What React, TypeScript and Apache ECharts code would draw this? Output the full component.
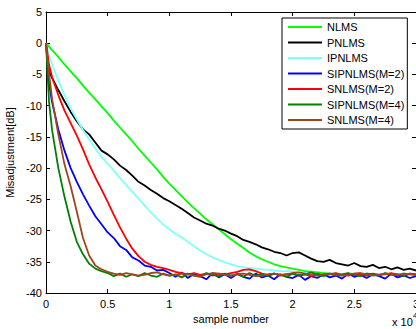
import React, { useEffect, useRef } from "react";
import * as echarts from "echarts";

// sample number (x 10^4)
const X = [0, 0.025, 0.05, 0.1, 0.15, 0.2, 0.25, 0.3, 0.35, 0.4, 0.45, 0.5, 0.55, 0.6, 0.65, 0.7, 0.75, 0.8, 0.85, 0.9, 0.95, 1.0,
  1.05, 1.1, 1.15, 1.2, 1.25, 1.3, 1.35, 1.4, 1.45, 1.5, 1.55, 1.6, 1.65, 1.7, 1.75, 1.8, 1.85, 1.9, 1.95, 2.0,
  2.05, 2.1, 2.15, 2.2, 2.25, 2.3, 2.35, 2.4, 2.45, 2.5, 2.55, 2.6, 2.65, 2.7, 2.75, 2.8, 2.85, 2.9, 2.95, 3.0];

const NLMS = [0, -0.55, -1.1, -2.2, -3.4, -4.5, -5.6, -6.8, -7.9, -9.0, -10.1, -11.2, -12.4, -13.5, -14.6, -15.7, -16.9, -18.0, -19.1, -20.2, -21.4, -22.5,
  -23.5, -24.5, -25.5, -26.4, -27.3, -28.2, -29.0, -29.8, -30.6, -31.4, -32.1, -32.8, -33.5, -34.1, -34.6, -35.0, -35.4, -35.7, -35.9, -36.1,
  -36.3, -36.5, -36.6, -36.7, -36.8, -36.9, -36.9, -37.0, -36.9, -37.1, -37.0, -36.9, -37.0, -37.1, -36.9, -37.0, -37.0, -36.9, -37.0, -37.0];

const PNLMS = [0, -4.5, -5.6, -7.5, -9.3, -11.0, -12.5, -13.8, -14.6, -15.9, -17.2, -17.8, -18.6, -19.6, -20.3, -21.2, -22.2, -22.8, -23.5, -24.1, -24.8, -25.3,
  -25.9, -26.5, -27.2, -27.9, -28.4, -28.9, -29.2, -29.7, -30.0, -30.5, -30.9, -31.5, -31.8, -32.2, -32.7, -33.0, -33.4, -33.6, -34.0, -33.6,
  -33.5, -34.0, -34.5, -34.9, -35.0, -34.7, -35.2, -35.4, -35.6, -35.2, -35.7, -35.8, -35.5, -36.0, -35.8, -36.2, -35.9, -36.3, -36.1, -36.4];

const IPNLMS = [0, -2.0, -3.4, -6.0, -8.3, -10.4, -12.2, -13.9, -15.4, -16.9, -18.2, -19.3, -20.4, -21.6, -22.7, -23.8, -24.9, -26.0, -27.1, -28.1, -29.0, -29.8,
  -30.5, -31.1, -31.8, -32.5, -33.2, -33.8, -34.3, -34.7, -35.1, -35.4, -35.7, -35.9, -36.0, -36.1, -36.2, -36.3, -36.4, -36.5, -36.5, -36.6,
  -36.7, -36.8, -36.9, -37.0, -36.9, -37.0, -37.1, -36.9, -37.0, -37.0, -37.1, -36.9, -37.0, -37.0, -36.9, -37.1, -37.0, -36.9, -37.0, -37.0];

const SIPNLMS_M2 = [0, -6.5, -9.5, -13.8, -17.2, -20.0, -22.2, -24.2, -26.0, -27.7, -29.0, -30.3, -31.2, -32.5, -33.1, -34.3, -34.8, -35.6, -35.8, -36.4, -36.3, -36.8,
  -37.4, -36.7, -37.6, -36.9, -37.3, -37.8, -36.8, -37.5, -37.0, -37.6, -36.9, -37.4, -37.7, -36.9, -37.5, -37.2, -37.8, -37.0, -37.4, -37.6,
  -37.1, -37.9, -37.3, -37.6, -37.0, -37.5, -37.2, -37.7, -36.9, -37.4, -37.1, -37.6, -37.0, -37.3, -37.7, -36.9, -37.5, -37.2, -37.6, -37.3];

const SNLMS_M2 = [0, -3.5, -5.5, -8.3, -10.8, -12.8, -14.8, -17.0, -19.4, -21.5, -23.4, -25.4, -27.5, -29.5, -31.3, -32.9, -34.1, -35.0, -35.5, -35.8, -36.0, -36.3,
  -36.6, -36.8, -37.0, -36.8, -37.1, -36.9, -37.2, -36.9, -37.0, -36.8, -36.6, -36.3, -36.2, -36.5, -36.9, -37.1, -36.9, -37.2, -37.0, -36.9,
  -37.2, -37.0, -37.3, -36.9, -37.1, -37.0, -36.8, -37.1, -37.2, -36.9, -37.0, -37.2, -36.9, -37.1, -37.0, -36.8, -37.1, -37.2, -36.9, -37.0];

const SIPNLMS_M4 = [0, -9.5, -14.0, -20.0, -24.6, -28.6, -31.8, -33.8, -35.3, -36.1, -36.5, -36.8, -37.3, -36.9, -37.4, -37.0, -37.3, -36.8, -37.2, -37.4, -36.9, -37.2,
  -37.0, -37.5, -36.9, -37.2, -37.4, -36.8, -37.1, -37.3, -36.9, -37.2, -37.0, -37.4, -36.8, -37.2, -37.0, -37.3, -36.9, -37.1, -37.4, -36.9,
  -37.2, -37.0, -36.7, -37.1, -37.3, -36.9, -37.2, -37.0, -36.8, -37.1, -37.3, -36.9, -37.0, -37.2, -36.8, -37.1, -37.0, -37.3, -36.9, -37.1];

const SNLMS_M4 = [0, -5.0, -9.0, -14.6, -19.4, -22.9, -27.0, -31.2, -34.0, -35.6, -36.2, -36.6, -36.9, -37.1, -36.8, -37.0, -37.2, -37.1, -36.8, -36.7, -37.0, -37.2,
  -37.1, -36.9, -37.0, -37.2, -37.3, -37.0, -36.8, -36.9, -37.1, -37.2, -37.0, -36.9, -37.1, -37.3, -37.2, -37.0, -36.9, -37.1, -37.0, -36.8,
  -36.7, -36.9, -37.1, -37.2, -37.0, -36.9, -37.0, -37.2, -37.1, -36.9, -36.8, -37.0, -37.2, -37.1, -36.9, -37.0, -37.1, -36.9, -37.0, -37.1];

const NAMES = ["NLMS", "PNLMS", "IPNLMS", "SIPNLMS(M=2)", "SNLMS(M=2)", "SIPNLMS(M=4)", "SNLMS(M=4)"];
const VALUES = [NLMS, PNLMS, IPNLMS, SIPNLMS_M2, SNLMS_M2, SIPNLMS_M4, SNLMS_M4];
const COLORS = ["#00ff00", "#000000", "#80ffff", "#0000ff", "#ff0000", "#008000", "#a0461e"];

export default function App() {
  const ref = useRef<HTMLDivElement>(null);
  useEffect(() => {
    const chart = echarts.init(ref.current!, null, { renderer: "svg" });
    const font = "Liberation Sans";
    const tick = { show: true, inside: true, length: 4, lineStyle: { color: "#000", width: 1 } };
    const line = { show: true, onZero: false, lineStyle: { color: "#000", width: 1 } };
    const label = { color: "#000", fontSize: 11, fontFamily: font };
    const series = NAMES.map((name, k) => ({
      type: "line",
      name,
      data: X.map((x, i) => [x, VALUES[k][i]]),
      symbol: "none",
      showSymbol: false,
      lineStyle: { color: COLORS[k], width: 1.8 },
      itemStyle: { color: COLORS[k] },
      emphasis: { disabled: true },
    }));
    chart.setOption({
      animation: false,
      backgroundColor: "#fff",
      grid: { left: 46, top: 12, right: 0, bottom: 36, containLabel: false, outerBoundsMode: "none" },
      xAxis: [
        {
          type: "value", position: "bottom", min: 0, max: 3, interval: 0.5,
          axisLine: line, axisTick: tick, splitLine: { show: false },
          axisLabel: { ...label, margin: 5 },
          name: "sample number", nameLocation: "middle", nameGap: 18,
          nameTextStyle: { color: "#000", fontSize: 11, fontFamily: font },
        },
        {
          type: "value", position: "top", min: 0, max: 3, interval: 0.5,
          axisLine: line, axisTick: tick, splitLine: { show: false }, axisLabel: { show: false },
        },
      ],
      yAxis: [
        {
          type: "value", position: "left", min: -40, max: 5, interval: 5,
          axisLine: line, axisTick: tick, splitLine: { show: false },
          axisLabel: { ...label, margin: 4 },
          name: "Misadjustment[dB]", nameLocation: "middle", nameGap: 20,
          nameTextStyle: { color: "#000", fontSize: 11, fontFamily: font },
        },
        {
          type: "value", position: "right", min: -40, max: 5, interval: 5,
          axisLine: line, axisTick: tick, splitLine: { show: false }, axisLabel: { show: false },
        },
      ],
      legend: {
        orient: "vertical", left: 282, top: 18,
        padding: [3, 3, 3, 6], itemGap: 3.5, itemWidth: 34, itemHeight: 2,
        icon: "rect",
        backgroundColor: "#fff", borderColor: "#000", borderWidth: 1, borderRadius: 0,
        textStyle: { color: "#000", fontSize: 11, fontFamily: font, lineHeight: 12 },
        data: NAMES,
        selectedMode: false,
      },
      graphic: [
        { type: "text", left: 392, top: 316, style: { text: "x 10", fill: "#000", font: `11px ${font}` } },
        { type: "text", left: 413, top: 311, style: { text: "4", fill: "#000", font: `8px ${font}` } },
      ],
      series,
    });
    return () => chart.dispose();
  }, []);
  return <div ref={ref} style={{ position: "absolute", left: 0, top: 0, width: 416, height: 329 }} />;
}
